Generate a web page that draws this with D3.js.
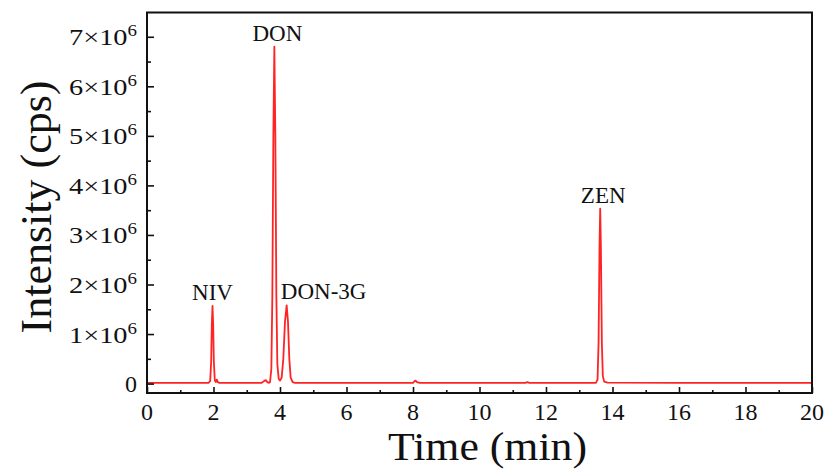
<!DOCTYPE html>
<html>
<head>
<meta charset="utf-8">
<script src="https://cdn.jsdelivr.net/npm/d3@7"></script>
<style>
  body { margin: 0; background: #fff; }
  text { font-family: "Liberation Serif", "Times New Roman", serif; fill: #111; }
</style>
</head>
<body>
<svg id="chart" width="827" height="470"></svg>
<script>
// DATA (time in min, intensity in 1e6 cps)
const times = [
  0, 1.0, 1.85, 1.90, 1.93, 1.95, 1.97, 1.99, 2.01, 2.04, 2.07, 2.10, 2.13, 2.18,
  3.0, 3.45, 3.52, 3.57, 3.62, 3.67,
  3.70, 3.74, 3.77, 3.80, 3.83, 3.86, 3.89, 3.92, 3.96, 4.00,
  4.05, 4.10, 4.15, 4.20, 4.24, 4.28, 4.32, 4.38, 4.45,
  6.0, 8.0, 8.05, 8.08, 8.12, 8.2,
  10.0, 11.38, 11.44, 11.5,
  13.50, 13.55, 13.58, 13.61, 13.63, 13.65, 13.68, 13.71, 13.75, 13.85,
  16.0, 20.0
];
const intensity = [
  0.015, 0.015, 0.015, 0.05, 0.45, 1.20, 1.57, 1.20, 0.45, 0.06, 0.03, 0.08, 0.03, 0.015,
  0.015, 0.015, 0.05, 0.07, 0.03, 0.015,
  0.03, 0.30, 1.80, 5.00, 6.80, 5.00, 1.80, 0.40, 0.10, 0.06,
  0.12, 0.50, 1.25, 1.58, 1.25, 0.50, 0.12, 0.03, 0.015,
  0.015, 0.015, 0.05, 0.06, 0.03, 0.015,
  0.015, 0.015, 0.03, 0.015,
  0.015, 0.08, 0.80, 2.80, 3.53, 2.80, 0.80, 0.15, 0.04, 0.02,
  0.015, 0.015
];
const xTicks = [0, 2, 4, 6, 8, 10, 12, 14, 16, 18, 20];
const yTicks = [0, 1, 2, 3, 4, 5, 6, 7];
const peakNames = ["NIV", "DON", "DON-3G", "ZEN"];
const peakTimes = [1.97, 3.83, 4.20, 13.63];
const peakHeights = [1.57, 6.80, 1.58, 3.53];

const svg = d3.select("#chart");
const box = { left: 147, right: 812, top: 12.5, bottom: 393 };

const xScale = d3.scaleLinear().domain([0, 20]).range([box.left, box.right]);
const yScale = d3.scaleLinear().domain([-0.19, 7.49]).range([box.bottom, box.top]);

const data = times.map((t, i) => ({ t, v: intensity[i] }));

// line
const line = d3.line()
  .x(d => xScale(d.t))
  .y(d => yScale(d.v));

svg.append("path")
  .datum(data)
  .attr("fill", "none")
  .attr("stroke", "#ff2424")
  .attr("stroke-width", 1.8)
  .attr("stroke-linejoin", "round")
  .attr("d", line);

// AXES (ticks pointing inward)
const xl = svg.append("g").attr("transform", `translate(0,${box.bottom})`);
xl.call(d3.axisTop(xScale).tickValues(d3.range(1, 20, 2)).tickSize(3).tickFormat(""));
xl.call(g => g.select(".domain").remove());
const xl2 = svg.append("g").attr("transform", `translate(0,${box.bottom})`);
xl2.call(d3.axisTop(xScale).tickValues(xTicks).tickSize(6).tickFormat(""));
xl2.call(g => g.select(".domain").remove());

const yl = svg.append("g").attr("transform", `translate(${box.left},0)`);
yl.call(d3.axisRight(yScale).tickValues(d3.range(0.5, 7.5, 1)).tickSize(4).tickFormat(""));
yl.call(g => g.select(".domain").remove());
const yl2 = svg.append("g").attr("transform", `translate(${box.left},0)`);
yl2.call(d3.axisRight(yScale).tickValues(yTicks).tickSize(7).tickFormat(""));
yl2.call(g => g.select(".domain").remove());

svg.selectAll(".tick line").attr("stroke", "#111").attr("stroke-width", 1.6);

// frame
svg.append("rect")
  .attr("x", box.left).attr("y", box.top)
  .attr("width", box.right - box.left).attr("height", box.bottom - box.top)
  .attr("fill", "none").attr("stroke", "#111").attr("stroke-width", 2);

// x tick labels
svg.append("g").selectAll("text")
  .data(xTicks)
  .join("text")
  .attr("x", d => xScale(d))
  .attr("y", 420)
  .attr("text-anchor", "middle")
  .style("font-size", "24px")
  .text(d => d);

// y tick labels
const yt = svg.append("g").selectAll("text")
  .data(yTicks)
  .join("text")
  .attr("x", 137)
  .attr("y", d => yScale(d) + 8.5)
  .attr("text-anchor", "end")
  .style("font-size", "24px");
yt.each(function (d) {
  const t = d3.select(this);
  if (d === 0) { t.text("0"); return; }
  t.attr("textLength", 68).attr("lengthAdjust", "spacingAndGlyphs");
  t.append("tspan").text(`${d}\u00d710`);
  t.append("tspan").attr("dy", -9).style("font-size", "16px").text("6");
});

// peak labels
const labelDx = [0, 3, 37, 3];
svg.append("g").selectAll("text")
  .data(peakNames)
  .join("text")
  .attr("x", (d, i) => xScale(peakTimes[i]) + labelDx[i])
  .attr("y", (d, i) => yScale(peakHeights[i]) - 6)
  .attr("text-anchor", "middle")
  .style("font-size", "23px")
  .text(d => d);

// axis titles
svg.append("text")
  .attr("x", (box.left + box.right) / 2 + 8)
  .attr("y", 460)
  .attr("text-anchor", "middle")
  .attr("textLength", 199)
  .attr("lengthAdjust", "spacingAndGlyphs")
  .style("font-size", "39px")
  .text("Time (min)");

svg.append("text")
  .attr("transform", "translate(51,207) rotate(-90)")
  .attr("text-anchor", "middle")
  .style("font-size", "44px")
  .text("Intensity (cps)");
</script>
</body>
</html>
